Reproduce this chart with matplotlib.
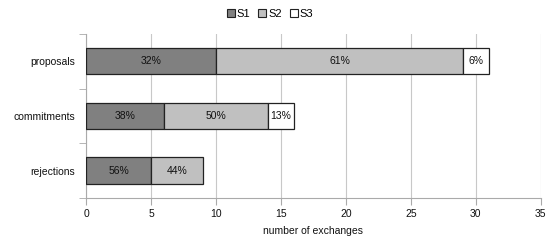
import numpy as np
import matplotlib.pyplot as plt
from matplotlib.patches import Patch

plt.rcParams['font.family'] = ['Liberation Sans', 'DejaVu Sans']

categories = ["proposals", "commitments", "rejections"]
s1 = [10, 6, 5]
s2 = [19, 8, 4]
s3 = [2, 2, 0]
pct1 = ["32%", "38%", "56%"]
pct2 = ["61%", "50%", "44%"]
pct3 = ["6%", "13%", ""]
series_names = ["S1", "S2", "S3"]
colors = ["#808080", "#c0c0c0", "#ffffff"]

fig = plt.figure(figsize=(5.48, 2.44), dpi=100)
ax = fig.add_axes([0.157, 0.189, 0.830, 0.672])

y = np.arange(len(categories))[::-1]
left = np.zeros(len(categories))
for vals, labels, col in zip([s1, s2, s3], [pct1, pct2, pct3], colors):
    vals = np.array(vals)
    mask = vals > 0
    bars = ax.barh(y[mask], vals[mask], left=left[mask], height=0.48,
                   color=col, edgecolor="#222222", linewidth=0.9, zorder=3)
    ax.bar_label(bars, labels=[l for l, m in zip(labels, mask) if m],
                 label_type="center", fontsize=7.5, color="#111111")
    left += vals

ax.set_xlim(0, 35)
ax.set_ylim(-0.5, 2.5)
ax.set_xticks(np.arange(0, 36, 5))
ax.set_yticks(y)
ax.set_yticklabels(categories, fontsize=7.5, color="#111111")
ax.set_yticks([-0.5, 0.5, 1.5, 2.5], minor=True)
ax.tick_params(axis="y", which="major", length=0, pad=8)
ax.tick_params(axis="y", which="minor", length=5, color="#aaaaaa")
ax.tick_params(axis="x", length=5, color="#aaaaaa", labelsize=7.5, labelcolor="#111111", pad=3)
ax.grid(axis="x", color="#c8c8c8", linewidth=0.8, zorder=0)
for s in ["top", "right"]:
    ax.spines[s].set_visible(False)
for s in ["left", "bottom"]:
    ax.spines[s].set_color("#aaaaaa")
ax.set_xlabel("number of exchanges", fontsize=7.5, color="#111111", labelpad=5)

handles = [Patch(facecolor=c, edgecolor="#222222", linewidth=0.8) for c in colors]
fig.legend(handles, series_names, loc="upper center", bbox_to_anchor=(0.493, 1.005),
           ncol=3, frameon=False, fontsize=8, handlelength=0.7, handleheight=0.7,
           handletextpad=0.2, columnspacing=0.7)

fig.savefig("out.png", dpi=100)
